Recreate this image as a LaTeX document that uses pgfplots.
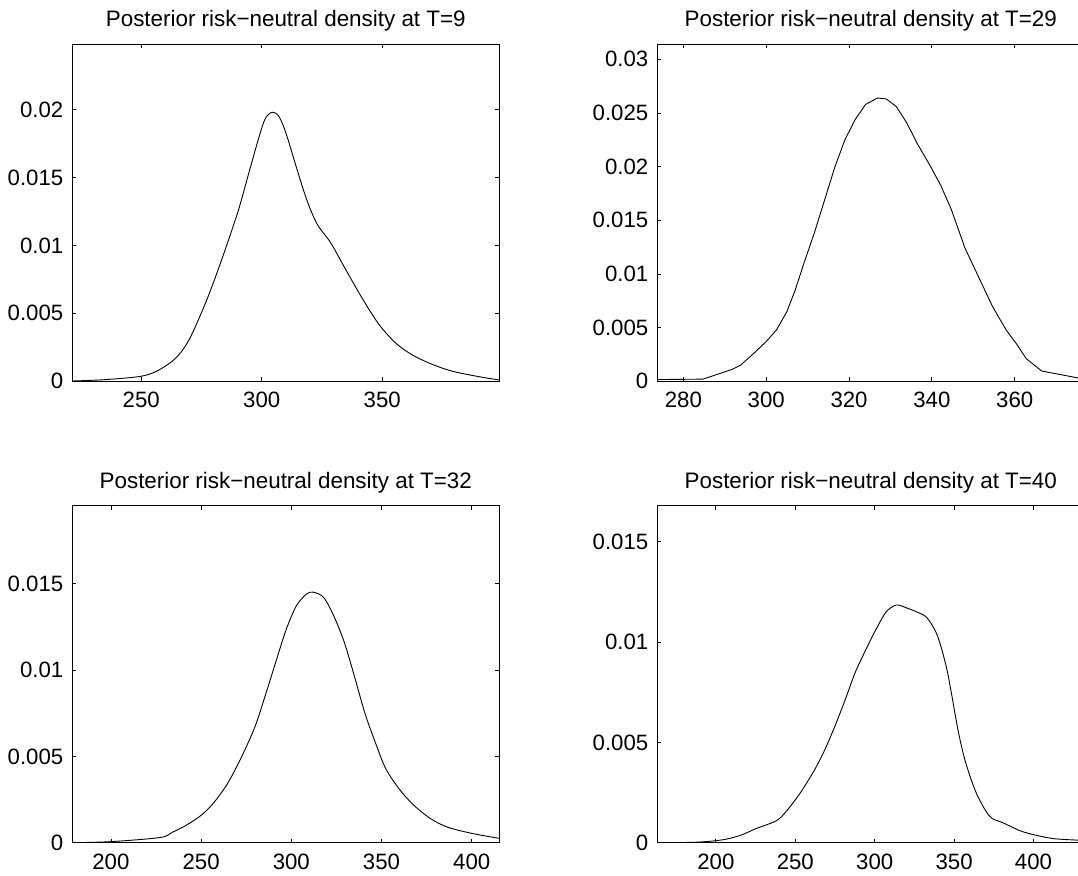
\documentclass[border=0pt]{standalone}
\usepackage{fontspec}
\setmainfont{Liberation Sans}
\usepackage{pgfplots}
\pgfplotsset{compat=1.18}
\pgfplotsset{
  mat/.style={
    scale only axis, width=213.5pt, height=168.5pt,
    anchor=south west,
    axis line style={line width=0.6pt},
    tick align=inside, major tick length=2pt,
    tick style={line width=0.4pt, black},
    xtick pos=both, ytick pos=both,
    ymin=0,
    scaled y ticks=false, scaled x ticks=false,
    /pgf/number format/assume math mode=true,
    tick label style={font=\fontsize{11.1pt}{13pt}\selectfont},
    yticklabel style={xshift=-1pt},
    xticklabel style={yshift=-2pt},
    every axis title/.style={font=\fontsize{11.2pt}{13pt}\selectfont, at={(0.5,1)}, anchor=base, yshift=8.8pt},
  }
}
\begin{document}
\begin{tikzpicture}
\useasboundingbox (0,0) rectangle (539pt,438pt);
\clip (0,0) rectangle (539pt,438pt);
% Top-left T=9
\begin{axis}[mat, at={(36.15pt,247.35pt)},
  xmin=221.4, xmax=398.6, ymax=0.0248,
  xtick={250,300,350}, xticklabels={250,300,350},
  ytick={0,0.005,0.01,0.015,0.02}, yticklabels={0,0.005,0.01,0.015,0.02},
  title={Posterior risk−neutral density at T=9}]
\addplot[black, line width=0.45pt, smooth, tension=0.5] coordinates {
(221.4,0.00002) (235,0.00012) (250,0.00037) (257,0.0008) (264.3,0.0017) (270,0.0031)
(277,0.0059) (282.9,0.0087) (290,0.0124) (294.3,0.0151) (298.6,0.0178)
(301.4,0.0193) (304.3,0.0198) (307.1,0.0195) (310,0.0183) (314.3,0.0158)
(318.6,0.0134) (322.9,0.0116) (328.6,0.0102) (334.3,0.0084) (341.4,0.0062)
(348.6,0.0042) (355.7,0.0028) (362.9,0.0019) (371.4,0.0012) (380,0.0007)
(391.4,0.0003) (398.6,0.0001)};
\end{axis}
% Top-right T=29
\begin{axis}[mat, at={(328.65pt,247.35pt)},
  xmin=273.7, xmax=376.8, ymax=0.0314,
  xtick={280,300,320,340,360}, xticklabels={280,300,320,340,360},
  ytick={0,0.005,0.01,0.015,0.02,0.025,0.03}, yticklabels={0,0.005,0.01,0.015,0.02,0.025,0.03},
  title={Posterior risk−neutral density at T=29}]
\addplot[black, line width=0.45pt, no marks] coordinates {
(273.7,0.00016) (284.7,0.0002) (291.7,0.0011) (293.8,0.0015) (296.7,0.0025)
(300,0.0037) (302.5,0.0048) (305,0.0065) (307,0.0085) (309.1,0.0110)
(311.6,0.0138) (314.1,0.0169) (316.6,0.0200) (319,0.0225) (321.5,0.0244)
(324,0.0258) (326.9,0.0264) (329,0.0263) (331.4,0.0256) (333.9,0.0241)
(336.4,0.0222) (339.7,0.0200) (342.2,0.0182) (344.7,0.0160) (348,0.0124)
(351.3,0.0097) (354.6,0.0070) (357.9,0.0048) (360.4,0.0035) (362.8,0.0021)
(366.5,0.00096) (376.8,0.0002)};
\end{axis}
% Bottom-left T=32
\begin{axis}[mat, at={(36.15pt,16.65pt)},
  xmin=178.6, xmax=415.3, ymax=0.01952,
  xtick={200,250,300,350,400}, xticklabels={200,250,300,350,400},
  ytick={0,0.005,0.01,0.015}, yticklabels={0,0.005,0.01,0.015},
  title={Posterior risk−neutral density at T=32}]
\addplot[black, line width=0.45pt, smooth, tension=0.5] coordinates {
(178.6,0) (200,0.00006) (227.3,0.0003) (234,0.0006) (241.6,0.0010) (250.2,0.0016)
(256.9,0.0023) (264.5,0.0034) (272.1,0.0049) (279.8,0.0067) (285.5,0.0085)
(291.2,0.0104) (297,0.0123) (302.7,0.0137) (308.4,0.0144) (312.2,0.01451)
(318,0.0142) (323.7,0.0131) (329.4,0.0116) (335.1,0.0096) (340.8,0.0075)
(346.6,0.0058) (352.3,0.0043) (359.9,0.0031) (367.6,0.0022) (377.1,0.0014)
(386.6,0.0009) (400,0.00054) (415.3,0.00025)};
\end{axis}
% Bottom-right T=40
\begin{axis}[mat, at={(328.65pt,16.65pt)},
  xmin=163.1, xmax=432.0, ymax=0.0168,
  xtick={200,250,300,350,400}, xticklabels={200,250,300,350,400},
  ytick={0,0.005,0.01,0.015}, yticklabels={0,0.005,0.01,0.015},
  title={Posterior risk−neutral density at T=40}]
\addplot[black, line width=0.45pt, smooth, tension=0.5] coordinates {
(163.1,0) (186.4,0.00002) (200,0.0001) (208,0.0002) (216.6,0.0004) (225.2,0.0007)
(238.2,0.0011) (244.7,0.0016) (253.3,0.0025) (261.9,0.0036) (268.4,0.0046)
(274.9,0.0058) (281.3,0.0071) (287.8,0.0085) (294.3,0.0096) (300.6,0.0106)
(307.2,0.0115) (313.7,0.01185) (320.2,0.0117) (326.6,0.0115) (333.1,0.0112)
(339.6,0.0103) (345,0.0088) (348.2,0.0075) (352.5,0.0056) (356.9,0.0041)
(363.3,0.0026) (369.8,0.0016) (374.1,0.0012) (380.6,0.0010) (391.4,0.0006)
(400,0.0004) (412.9,0.0002) (426.9,0.00013) (432,0.0001)};
\end{axis}
\end{tikzpicture}
\end{document}
